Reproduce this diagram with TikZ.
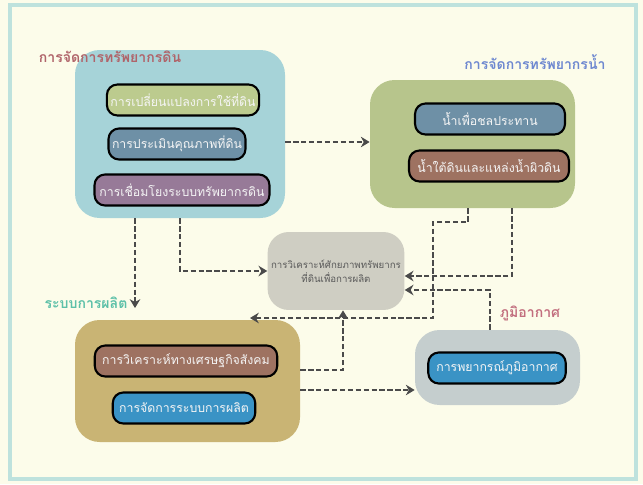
\documentclass[tikz,border=0pt]{standalone}
\usepackage{fontspec}
\newfontfamily\thaifont[Script=Thai]{Loma}
\usetikzlibrary{arrows.meta, positioning, fit, calc}
\definecolor{bgcream}{HTML}{FCFCEA}
\definecolor{framecol}{HTML}{BEE2DD}
\definecolor{soilblob}{HTML}{A6D3D8}
\definecolor{waterblob}{HTML}{B7C58C}
\definecolor{prodblob}{HTML}{C9B474}
\definecolor{climblob}{HTML}{C5CECE}
\definecolor{centergray}{HTML}{CFCEC3}
\definecolor{boxgreen}{HTML}{BCCB8E}
\definecolor{boxslate}{HTML}{6E90A6}
\definecolor{boxpurple}{HTML}{977A98}
\definecolor{boxbrown}{HTML}{9E7261}
\definecolor{boxblue}{HTML}{3A93C5}
\definecolor{soiltitle}{HTML}{B0646A}
\definecolor{watertitle}{HTML}{6E88D0}
\definecolor{prodtitle}{HTML}{5CC0A8}
\definecolor{climtitle}{HTML}{C26E7E}
\definecolor{flowgray}{HTML}{4A4A4A}

\begin{document}
\begin{tikzpicture}[x=0.02cm, y=-0.02cm,
    blob/.style={rounded corners=14pt, inner sep=0pt},
    itembox/.style={draw=black, line width=1.2pt, rounded corners=6pt, minimum height=0.62cm,
      font=\thaifont\fontsize{7}{9}\selectfont, text=white!92!gray, inner sep=2pt},
    grouptitle/.style={font=\thaifont\fontsize{8}{10}\selectfont\bfseries},
    flow/.style={draw=flowgray, line width=1.6pt, dash pattern=on 3pt off 1.5pt, -{Stealth[length=5pt, width=6pt]}}]
  \useasboundingbox (0,0) rectangle (643,484);
  \fill[bgcream] (0,0) rectangle (643,484);
  \draw[framecol, line width=2.5pt] (10,5) rectangle (636,479);

  % group blobs
  \node[blob, fill=soilblob, fit={(75,50) (285,218)}] (soil) {};
  \node[blob, fill=waterblob, fit={(370,80) (575,208)}] (water) {};
  \node[blob, fill=prodblob, fit={(75,320) (300,442)}] (prod) {};
  \node[blob, fill=climblob, fit={(415,330) (580,405)}] (climate) {};

  % group titles
  \node[grouptitle, text=soiltitle] (soiltitle) at (110,57) {การจัดการทรัพยากรดิน};
  \node[grouptitle, text=watertitle] (watertitle) at (535,62) {การจัดการทรัพยากรน้ำ};
  \node[grouptitle, text=prodtitle] (prodtitle) at (86,303) {ระบบการผลิต};
  \node[grouptitle, text=climtitle] (climtitle) at (530,313) {ภูมิอากาศ};

  % soil items
  \node[itembox, fill=boxgreen, minimum width=3cm] (landuse) at (183,100) {การเปลี่ยนแปลงการใช้ที่ดิน};
  \node[itembox, fill=boxslate, minimum width=2.7cm] (landqual) at (177,144) {การประเมินคุณภาพที่ดิน};
  \node[itembox, fill=boxpurple, minimum width=3.5cm] (soillink) at (182,190) {การเชื่อมโยงระบบทรัพยากรดิน};

  % water items
  \node[itembox, fill=boxslate, minimum width=3cm] (irrig) at (490,119) {น้ำเพื่อชลประทาน};
  \node[itembox, fill=boxbrown, minimum width=3.2cm] (ground) at (489,166) {น้ำใต้ดินและแหล่งน้ำผิวดิน};

  % production items
  \node[itembox, fill=boxbrown, minimum width=3.65cm] (socio) at (186,361) {การวิเคราะห์ทางเศรษฐกิจสังคม};
  \node[itembox, fill=boxblue, minimum width=2.85cm] (prodmgmt) at (184,408) {การจัดการระบบการผลิต};

  % climate item
  \node[itembox, fill=boxblue, minimum width=2.75cm] (forecast) at (497,368) {การพยากรณ์ภูมิอากาศ};

  % centre
  \node[fill=centergray, rounded corners=12pt, minimum width=2.7cm, minimum height=1.56cm, inner sep=2pt,
    align=center, text=black!65, font=\thaifont\fontsize{5.5}{8}\selectfont] (analysis) at (336,271)
    {การวิเคราะห์ศักยภาพทรัพยากร\\ที่ดินเพื่อการผลิต};

  % connectors
  \coordinate (soilout) at (135,308);
  \coordinate (prodin) at (250,318);
  \draw[flow] (0,142 -| soil.east) -- (0,142 -| water.west);
  \draw[flow] (soil.south) |- (analysis.west);
  \draw[flow] (soil.south -| soilout) -- (soilout);
  \draw[flow] (water.south -| 468,0) |- (433,222) |- (prodin);
  \draw[flow] (water.south -| 512,0) |- (0,276 -| analysis.east);
  \draw[flow] (climate.north -| 490,0) |- (0,290 -| analysis.east);
  \draw[flow] (0,370 -| prod.east) -| (analysis.south -| 343,0);
  \draw[flow] (0,390 -| prod.east) -- (0,390 -| climate.west);
\end{tikzpicture}
\end{document}
